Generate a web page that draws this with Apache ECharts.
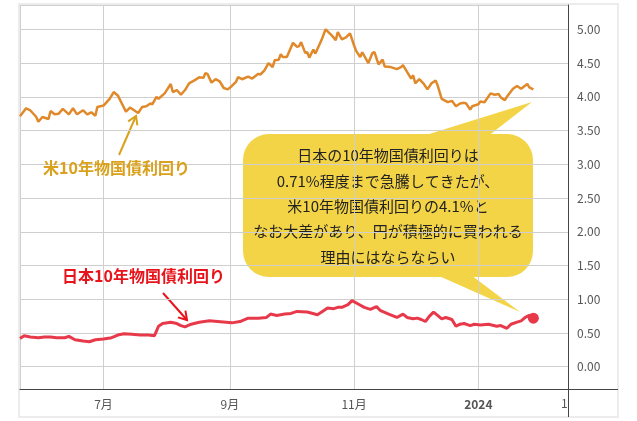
<!DOCTYPE html>
<html>
<head>
<meta charset="utf-8">
<script src="https://cdn.jsdelivr.net/npm/echarts@6/dist/echarts.min.js"></script>
<style>
html, body { margin: 0; background: #fff; }
#chart { width: 637px; height: 421px; }
</style>
</head>
<body>
<div id="chart"></div>
<script>
// 米10年物国債利回り
const usDates = [
    '2023-05-21', '2023-05-24', '2023-05-26', '2023-05-29', '2023-05-30', '2023-06-01', '2023-06-04', '2023-06-05',
    '2023-06-07', '2023-06-09', '2023-06-11', '2023-06-14', '2023-06-16', '2023-06-18', '2023-06-21', '2023-06-23',
    '2023-06-25', '2023-06-27', '2023-06-28', '2023-07-01', '2023-07-04', '2023-07-06', '2023-07-08', '2023-07-10',
    '2023-07-12', '2023-07-14', '2023-07-16', '2023-07-18', '2023-07-20', '2023-07-22', '2023-07-24', '2023-07-25',
    '2023-07-27', '2023-07-28', '2023-07-31', '2023-08-03', '2023-08-04', '2023-08-06', '2023-08-08', '2023-08-10',
    '2023-08-12', '2023-08-15', '2023-08-17', '2023-08-19', '2023-08-20', '2023-08-21', '2023-08-23', '2023-08-25',
    '2023-08-27', '2023-08-29', '2023-08-31', '2023-09-02', '2023-09-04', '2023-09-05', '2023-09-07', '2023-09-10',
    '2023-09-12', '2023-09-15', '2023-09-16', '2023-09-18', '2023-09-20', '2023-09-22', '2023-09-23', '2023-09-25',
    '2023-09-26', '2023-09-27', '2023-09-29', '2023-10-02', '2023-10-04', '2023-10-05', '2023-10-06', '2023-10-08',
    '2023-10-09', '2023-10-10', '2023-10-12', '2023-10-13', '2023-10-16', '2023-10-18', '2023-10-21', '2023-10-23',
    '2023-10-24', '2023-10-26', '2023-10-28', '2023-10-30', '2023-11-01', '2023-11-02', '2023-11-04', '2023-11-05',
    '2023-11-08', '2023-11-10', '2023-11-11', '2023-11-13', '2023-11-15', '2023-11-16', '2023-11-19', '2023-11-22',
    '2023-11-24', '2023-11-25', '2023-11-27', '2023-11-29', '2023-11-30', '2023-12-01', '2023-12-03', '2023-12-05',
    '2023-12-07', '2023-12-09', '2023-12-11', '2023-12-12', '2023-12-14', '2023-12-17', '2023-12-19', '2023-12-21',
    '2023-12-23', '2023-12-25', '2023-12-26', '2023-12-28', '2023-12-29', '2024-01-01', '2024-01-02', '2024-01-04',
    '2024-01-07', '2024-01-09', '2024-01-11', '2024-01-12', '2024-01-14', '2024-01-15', '2024-01-18', '2024-01-20',
    '2024-01-22', '2024-01-25', '2024-01-26', '2024-01-28'
];
const usYield = [
    3.71, 3.83, 3.80, 3.70, 3.63, 3.70, 3.67, 3.79,
    3.74, 3.75, 3.82, 3.74, 3.83, 3.74, 3.80, 3.74,
    3.77, 3.72, 3.85, 3.87, 3.97, 4.07, 4.02, 3.90,
    3.78, 3.84, 3.80, 3.76, 3.85, 3.86, 3.90, 3.89,
    4.00, 3.97, 4.05, 4.19, 4.07, 4.10, 4.03, 4.10,
    4.20, 4.25, 4.29, 4.28, 4.35, 4.34, 4.21, 4.26,
    4.23, 4.13, 4.11, 4.16, 4.22, 4.29, 4.26, 4.30,
    4.27, 4.34, 4.33, 4.39, 4.50, 4.44, 4.54, 4.55,
    4.63, 4.59, 4.59, 4.80, 4.74, 4.75, 4.81, 4.65,
    4.66, 4.58, 4.70, 4.64, 4.84, 5.00, 4.91, 4.84,
    4.96, 4.85, 4.88, 4.94, 4.76, 4.68, 4.59, 4.66,
    4.50, 4.65, 4.66, 4.48, 4.55, 4.45, 4.44, 4.41,
    4.44, 4.47, 4.37, 4.27, 4.32, 4.20, 4.26, 4.20,
    4.11, 4.20, 4.24, 4.17, 3.97, 3.92, 3.94, 3.86,
    3.90, 3.91, 3.90, 3.81, 3.86, 3.89, 3.93, 3.92,
    4.05, 4.03, 4.04, 3.99, 3.95, 4.00, 4.12, 4.16,
    4.12, 4.19, 4.14, 4.11
];

// 日本10年物国債利回り
const jpDates = [
    '2023-05-21', '2023-05-23', '2023-05-26', '2023-05-30', '2023-06-02', '2023-06-05', '2023-06-08', '2023-06-12',
    '2023-06-14', '2023-06-17', '2023-06-21', '2023-06-24', '2023-06-27', '2023-07-01', '2023-07-05', '2023-07-08',
    '2023-07-11', '2023-07-15', '2023-07-19', '2023-07-23', '2023-07-26', '2023-07-28', '2023-07-30', '2023-08-03',
    '2023-08-06', '2023-08-08', '2023-08-10', '2023-08-13', '2023-08-17', '2023-08-22', '2023-08-26', '2023-09-02',
    '2023-09-06', '2023-09-10', '2023-09-15', '2023-09-19', '2023-09-21', '2023-09-24', '2023-09-28', '2023-10-01',
    '2023-10-04', '2023-10-09', '2023-10-14', '2023-10-17', '2023-10-19', '2023-10-22', '2023-10-24', '2023-10-26',
    '2023-10-29', '2023-10-31', '2023-11-03', '2023-11-06', '2023-11-09', '2023-11-12', '2023-11-14', '2023-11-18',
    '2023-11-22', '2023-11-25', '2023-11-27', '2023-11-30', '2023-12-02', '2023-12-04', '2023-12-06', '2023-12-08',
    '2023-12-10', '2023-12-12', '2023-12-14', '2023-12-16', '2023-12-19', '2023-12-21', '2023-12-23', '2023-12-25',
    '2023-12-28', '2023-12-30', '2024-01-02', '2024-01-06', '2024-01-10', '2024-01-12', '2024-01-15', '2024-01-17',
    '2024-01-20', '2024-01-22', '2024-01-24', '2024-01-26', '2024-01-28'
];
const jpYield = [
    0.42, 0.46, 0.44, 0.43, 0.44, 0.44, 0.43, 0.43,
    0.45, 0.40, 0.38, 0.37, 0.40, 0.41, 0.43, 0.47,
    0.49, 0.48, 0.47, 0.47, 0.46, 0.60, 0.64, 0.66,
    0.64, 0.61, 0.59, 0.63, 0.66, 0.68, 0.67, 0.65,
    0.67, 0.72, 0.72, 0.73, 0.78, 0.76, 0.78, 0.79,
    0.82, 0.81, 0.77, 0.83, 0.87, 0.86, 0.88, 0.88,
    0.92, 0.98, 0.93, 0.88, 0.85, 0.89, 0.83, 0.78,
    0.73, 0.78, 0.73, 0.71, 0.72, 0.70, 0.67, 0.75,
    0.81, 0.76, 0.71, 0.73, 0.70, 0.60, 0.63, 0.64,
    0.61, 0.63, 0.62, 0.63, 0.60, 0.61, 0.57, 0.63,
    0.66, 0.68, 0.73, 0.76, 0.72
];

// 軸の範囲
const xMin = '2023-05-21';
const xMax = '2024-02-14';
const yMin = -0.33;
const yMax = 5.36;
const yStep = 0.5;

// 吹き出しの文
const calloutLines = [
    '日本の10年物国債利回りは',
    '0.71%程度まで急騰してきたが、',
    '米10年物国債利回りの4.1%と',
    'なお大差があり、円が積極的に買われる',
    '理由にはならならい'
];

const FONT = '"Noto Sans CJK JP", "Noto Sans", sans-serif';

function zip(dates, values) {
    return dates.map((d, i) => [d, values[i]]);
}

// 矢印 (線 + V字の先端)
function arrow(x1, y1, x2, y2, color) {
    let dx = x2 - x1, dy = y2 - y1;
    let len = Math.sqrt(dx * dx + dy * dy);
    let ux = dx / len, uy = dy / len;
    let bx = x2 - ux * 8, by = y2 - uy * 8;
    let px = -uy * 5, py = ux * 5;
    return [
        {
            type: 'line',
            shape: {x1: x1, y1: y1, x2: x2, y2: y2},
            style: {stroke: color, lineWidth: 2}
        },
        {
            type: 'polyline',
            shape: {points: [[bx + px, by + py], [x2, y2], [bx - px, by - py]]},
            style: {stroke: color, lineWidth: 2, fill: null}
        }
    ];
}

let chart = echarts.init(document.getElementById('chart'));

let option = {
    animation: false,
    backgroundColor: '#fff',
    textStyle: {fontFamily: FONT},
    grid: {left: 20, right: 69, top: 5, bottom: 32},
    xAxis: {
        type: 'time',
        min: xMin,
        max: xMax,
        splitNumber: 4,
        axisLine: {onZero: false, lineStyle: {color: '#444'}},
        axisTick: {show: false},
        splitLine: {show: true, lineStyle: {color: '#cfcfcf'}},
        axisLabel: {
            color: '#555',
            fontSize: 12,
            margin: 9,
            fontFamily: FONT,
            formatter: function (value) {
                let d = new Date(value);
                if (d.getMonth() === 0) {
                    return '{y|' + d.getFullYear() + '}';
                }
                return (d.getMonth() + 1) + '月';
            },
            rich: {y: {fontWeight: 'bold', color: '#555', fontSize: 12, fontFamily: FONT}}
        }
    },
    yAxis: {
        type: 'value',
        position: 'right',
        min: yMin,
        max: yMax,
        splitNumber: 10,
        minInterval: yStep,
        maxInterval: yStep,
        axisLine: {show: true, lineStyle: {color: '#444'}},
        axisTick: {show: false},
        splitLine: {lineStyle: {color: '#cfcfcf'}},
        axisLabel: {
            color: '#555',
            fontSize: 12,
            margin: 9,
            fontFamily: FONT,
            formatter: function (v) {
                let k = v / yStep;
                return Math.abs(k - Math.round(k)) < 1e-6 ? v.toFixed(2) : '';
            }
        }
    },
    series: [
        {
            name: '米10年物国債利回り',
            type: 'line',
            showSymbol: false,
            lineStyle: {color: '#e0892b', width: 2.5},
            itemStyle: {color: '#e0892b'},
            data: zip(usDates, usYield),
            z: 3
        },
        {
            name: '日本10年物国債利回り',
            type: 'line',
            showSymbol: false,
            lineStyle: {color: '#e8394b', width: 3},
            itemStyle: {color: '#e8394b'},
            data: zip(jpDates, jpYield),
            markPoint: {
                symbol: 'circle',
                symbolSize: 11,
                label: {show: false},
                itemStyle: {color: '#e8394b'},
                data: [{coord: [jpDates[jpDates.length - 1], jpYield[jpYield.length - 1]]}]
            },
            z: 3
        }
    ],
    graphic: [
        // 外枠
        {
            type: 'rect',
            shape: {x: 19, y: 4, width: 599, height: 413},
            style: {stroke: '#ececec', lineWidth: 2, fill: null},
            z: 0, silent: true
        },
        // 軸線の延長
        {
            type: 'line',
            shape: {x1: 568, y1: 389.5, x2: 618, y2: 389.5},
            style: {stroke: '#444', lineWidth: 1}
        },
        // 切れた目盛りラベル
        {
            type: 'text',
            x: 561, y: 403,
            style: {text: '12', fill: '#555', font: '12px ' + FONT, textVerticalAlign: 'middle'},
            z: 5
        },
        {
            type: 'rect',
            shape: {x: 569, y: 391, width: 47, height: 25},
            style: {fill: '#fff'},
            z: 6
        },
        {
            type: 'line',
            shape: {x1: 568.5, y1: 389, x2: 568.5, y2: 417},
            style: {stroke: '#444', lineWidth: 1},
            z: 7
        },
        // 吹き出し
        {
            type: 'group',
            z: 10,
            children: [
                {
                    type: 'rect',
                    shape: {x: 243, y: 134, width: 290, height: 143, r: 26},
                    style: {fill: '#f4d447'}
                },
                {
                    type: 'polygon',
                    shape: {points: [[410, 140], [532, 102], [483, 140]]},
                    style: {fill: '#f4d447'}
                },
                {
                    type: 'polygon',
                    shape: {points: [[430, 272], [520, 312], [467, 272]]},
                    style: {fill: '#f4d447'}
                },
                {
                    type: 'text',
                    x: 388, y: 143,
                    style: {
                        text: calloutLines.join('\n'),
                        fill: '#222',
                        font: '15px ' + FONT,
                        lineHeight: 25.3,
                        align: 'center',
                        verticalAlign: 'top'
                    }
                }
            ]
        },
        // 系列ラベル
        {
            type: 'text',
            x: 43, y: 168,
            style: {
                text: '米10年物国債利回り',
                fill: '#d9a11c',
                font: 'bold 16px ' + FONT,
                verticalAlign: 'middle'
            },
            z: 10
        },
        {
            type: 'text',
            x: 62, y: 276,
            style: {
                text: '日本10年物国債利回り',
                fill: '#e8141c',
                font: 'bold 16px ' + FONT,
                verticalAlign: 'middle'
            },
            z: 10
        }
    ].concat(arrow(119, 155, 136, 116, '#d9a11c'))
     .concat(arrow(163, 293, 187, 320, '#e8141c'))
};

chart.setOption(option);
</script>
</body>
</html>
